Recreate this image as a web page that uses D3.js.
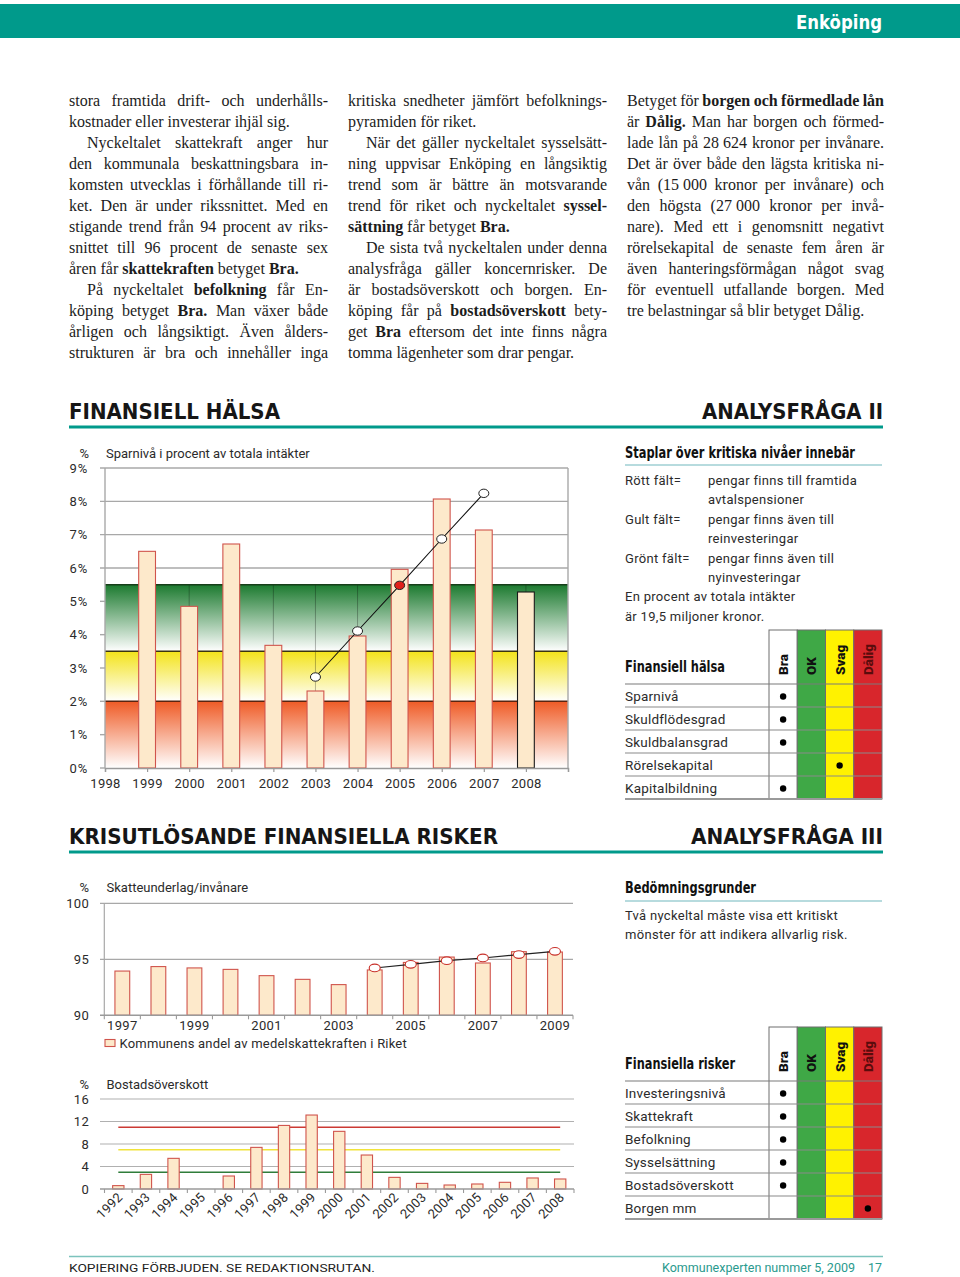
<!DOCTYPE html>
<html><head><meta charset="utf-8">
<script src="https://cdn.jsdelivr.net/npm/d3@7"></script>
<style>
html,body{margin:0;padding:0;background:#fff;}
svg{display:block;}
</style></head><body>
<svg id="page" width="960" height="1277"></svg>
<script>
// ---------------- DATA ----------------
const textCol1 = [
  "stora framtida drift- och underhålls-",
  "kostnader eller investerar ihjäl sig.|",
  ">Nyckeltalet skattekraft anger hur",
  "den kommunala beskattningsbara in-",
  "komsten utvecklas i förhållande till ri-",
  "ket. Den är under rikssnittet. Med en",
  "stigande trend från 94 procent av riks-",
  "snittet till 96 procent de senaste sex",
  "åren får **skattekraften** betyget **Bra.**|",
  ">På nyckeltalet **befolkning** får En-",
  "köping betyget **Bra.** Man växer både",
  "årligen och långsiktigt. Även ålders-",
  "strukturen är bra och innehåller inga"
];
const textCol2 = [
  "kritiska snedheter jämfört befolknings-",
  "pyramiden för riket.|",
  ">När det gäller nyckeltalet sysselsätt-",
  "ning uppvisar Enköping en långsiktig",
  "trend som är bättre än motsvarande",
  "trend för riket och nyckeltalet **syssel-**",
  "**sättning** får betyget **Bra.**|",
  ">De sista två nyckeltalen under denna",
  "analysfråga gäller koncernrisker. De",
  "är bostadsöverskott och borgen. En-",
  "köping får på **bostadsöverskott** bety-",
  "get **Bra** eftersom det inte finns några",
  "tomma lägenheter som drar pengar.|"
];
const textCol3 = [
  "Betyget för **borgen och förmedlade lån**",
  "är **Dålig.** Man har borgen och förmed-",
  "lade lån på 28\u00a0624 kronor per invånare.",
  "Det är över både den lägsta kritiska ni-",
  "vån (15\u00a0000 kronor per invånare) och",
  "den högsta (27\u00a0000 kronor per invå-",
  "nare). Med ett i genomsnitt negativt",
  "rörelsekapital de senaste fem åren är",
  "även hanteringsförmågan något svag",
  "för eventuell utfallande borgen. Med",
  "tre belastningar så blir betyget Dålig.|"
];

// Chart 1: Sparnivå
const sparAxisYears = [1998,1999,2000,2001,2002,2003,2004,2005,2006,2007,2008,2009];
const sparYears = [1999,2000,2001,2002,2003,2004,2005,2006,2007,2008];
const sparValues = [6.5,4.85,6.72,3.68,2.31,3.96,5.96,8.07,7.14,5.28];
const sparTrendYears = [2003,2004,2005,2006,2007];
const sparTrendValues = [2.73,4.11,5.48,6.87,8.24];
const sparHighlightYear = 2005;
const sparOutlinedYear = 2008;
const sparYTicks = [0,1,2,3,4,5,6,7,8,9];
const sparBandLimits = [0,2,3.5,5.5];

// Chart 2: Skatteunderlag
const skattYears = [1997,1998,1999,2000,2001,2002,2003,2004,2005,2006,2007,2008,2009];
const skattValues = [93.95,94.35,94.23,94.1,93.54,93.21,92.74,94.05,94.72,95.2,94.67,95.68,95.65];
const skattTrendYears = [2004,2005,2006,2007,2008,2009];
const skattTrendValues = [94.23,94.55,94.88,95.12,95.42,95.71];
const skattTickLabels = [1997,1999,2001,2003,2005,2007,2009];
const skattYTicks = [90,95,100];

// Chart 3: Bostadsöverskott
const bostadYears = [1992,1993,1994,1995,1996,1997,1998,1999,2000,2001,2002,2003,2004,2005,2006,2007,2008];
const bostadValues = [0.6,2.6,5.45,0,2.31,7.4,11.3,13.15,10.25,6.04,2.07,1.0,0.71,0.89,1.19,1.96,1.78];
const bostadLevels = [11,7,3];
const bostadYTicks = [0,4,8,12,16];

// Tables
const gradeNames = ["Bra","OK","Svag","Dålig"];
const legendLabels = ["Rött fält=","Gult fält=","Grönt fält="];
const legendTexts = [["pengar finns till framtida","avtalspensioner"],["pengar finns även till","reinvesteringar"],["pengar finns även till","nyinvesteringar"]];
const legendNote = ["En procent av totala intäkter","är 19,5 miljoner kronor."];
const healthRows = ["Sparnivå","Skuldflödesgrad","Skuldbalansgrad","Rörelsekapital","Kapitalbildning"];
const healthGrades = ["Bra","Bra","Bra","Svag","Bra"];
const riskRows = ["Investeringsnivå","Skattekraft","Befolkning","Sysselsättning","Bostadsöverskott","Borgen mm"];
const riskGrades = ["Bra","Bra","Bra","Bra","Bra","Dålig"];
const riskNote = ["Två nyckeltal måste visa ett kritiskt","mönster för att indikera allvarlig risk."];

// ---------------- STYLE ----------------
const TEAL = "#009a8b";
const SANS = "Roboto, 'Open Sans', sans-serif";
const COND = "'DejaVu Sans Condensed','Roboto Condensed',Roboto,sans-serif";
const SERIF = "'Liberation Serif','Times New Roman',serif";
const BAR_FILL = "#fde9cb";
const BAR_STROKE = "#d0544c";
const TXT = "#2b2b2b";

const svg = d3.select("#page");
const defs = svg.append("defs");

function fitText(g, text, x, y, w, fs, fam, wt, fill) {
  return g.append("text").attr("x",x).attr("y",y).attr("font-family",fam).attr("font-weight",wt)
    .attr("font-size",fs).attr("fill",fill).attr("textLength",w).attr("lengthAdjust","spacingAndGlyphs").text(text);
}

// ---------------- HEADER ----------------
svg.append("rect").attr("x",0).attr("y",4).attr("width",960).attr("height",34).attr("fill",TEAL);
fitText(svg, "Enköping", 796, 29, 86, 20, COND, 700, "#fff");

// ---------------- BODY TEXT (justified) ----------------
function parseLine(raw) {
  let s = raw, indent = 0, just = true;
  if (s.startsWith(">")) { indent = 18; s = s.slice(1); }
  if (s.endsWith("|")) { just = false; s = s.slice(0,-1); }
  let bold = false;
  const words = s.split(" ").map(w => {
    let t = w;
    if (t.startsWith("**")) { bold = true; t = t.slice(2); }
    const b = bold;
    if (t.endsWith("**")) { t = t.slice(0,-2); bold = false; }
    return {t, b};
  });
  return {words, indent, just};
}
function drawColumn(lines, x0, width, yFirst, lineH, fs) {
  const g = svg.append("g").attr("font-family",SERIF).attr("font-size",fs).attr("fill","#1c1c1c");
  const sp = g.append("text").text("a a");
  const spw = sp.node().getComputedTextLength() - 2*g.append("text").text("a").node().getComputedTextLength();
  g.selectAll("text").remove();
  lines.forEach((raw,i) => {
    const L = parseLine(raw);
    const y = yFirst + i*lineH;
    const nodes = L.words.map(w => g.append("text").attr("y",y).attr("font-weight", w.b ? 700 : 400).text(w.t));
    const ws = nodes.map(n => n.node().getComputedTextLength());
    const total = d3.sum(ws);
    const avail = width - L.indent;
    let gap = spw;
    if (L.just && nodes.length > 1) gap = (avail - total) / (nodes.length - 1);
    let x = x0 + L.indent;
    nodes.forEach((n,k) => { n.attr("x", x); x += ws[k] + gap; });
  });
}
function maxNatural(lines, fs) {
  const g = svg.append("g").attr("font-family",SERIF).attr("font-size",fs);
  let m = 0;
  lines.forEach(raw => {
    const L = parseLine(raw);
    const t = g.append("text").text(L.words.map(w=>w.t).join(" "));
    m = Math.max(m, t.node().getComputedTextLength() + L.indent);
  });
  g.remove();
  return m;
}
let bodyFs = 16;
const colW = 259;
const nat = Math.max(maxNatural(textCol1,16), maxNatural(textCol2,16), maxNatural(textCol3,16));
if (nat > colW - 4) bodyFs = 16 * (colW - 4) / nat;
drawColumn(textCol1, 69, colW, 106, 21, bodyFs);
drawColumn(textCol2, 348, colW, 106, 21, bodyFs);
drawColumn(textCol3, 627, 257, 106, 21, bodyFs);

// ---------------- SECTION HEADINGS ----------------
fitText(svg, "FINANSIELL HÄLSA", 69, 418.5, 211, 21, COND, 700, "#161616");
fitText(svg, "ANALYSFRÅGA II", 883-181, 418.5, 181, 21, COND, 700, "#161616");
svg.append("rect").attr("x",69).attr("y",425.5).attr("width",814).attr("height",3).attr("fill",TEAL);
fitText(svg, "KRISUTLÖSANDE FINANSIELLA RISKER", 69, 844, 429, 21, COND, 700, "#161616");
fitText(svg, "ANALYSFRÅGA III", 883-192, 844, 192, 21, COND, 700, "#161616");
svg.append("rect").attr("x",69).attr("y",850.5).attr("width",814).attr("height",3).attr("fill",TEAL);

// ---------------- CHART 1 ----------------
(function(){
  const g = svg.append("g");
  const x = d3.scaleLinear().domain([1998,2009]).range([105,568]);
  const y = d3.scaleLinear().domain([0,9]).range([768,468]);
  const bandColors = [["#ef5b26","#ffffff"],["#f3e31a","#ffffff"],["#1c7a2f","#ffffff"]];
  const edgeColors = ["#5a2410","#3a3410","#173f1a"];
  bandColors.forEach((c,i) => {
    const lg = defs.append("linearGradient").attr("id","band"+i).attr("x1",0).attr("y1",0).attr("x2",0).attr("y2",1);
    lg.append("stop").attr("offset",0).attr("stop-color",c[0]);
    lg.append("stop").attr("offset",1).attr("stop-color",c[1]);
    g.append("rect").attr("x",x(1998)).attr("width",x(2009)-x(1998))
      .attr("y",y(sparBandLimits[i+1])).attr("height",y(sparBandLimits[i])-y(sparBandLimits[i+1]))
      .attr("fill","url(#band"+i+")");
  });
  g.selectAll(".vg").data(sparAxisYears.slice(1,-1)).enter().append("line")
    .attr("x1",d=>x(d)).attr("x2",d=>x(d)).attr("y1",y(0)).attr("y2",y(5.5))
    .attr("stroke","#000").attr("stroke-opacity",0.28).attr("stroke-width",1);
  g.selectAll(".hg").data(sparYTicks.filter(v=>v>5.5)).enter().append("line")
    .attr("x1",x(1998)-5).attr("x2",x(2009)).attr("y1",d=>y(d)).attr("y2",d=>y(d))
    .attr("stroke","#a8a8a8").attr("stroke-width",1.4);
  g.selectAll(".ht").data(sparYTicks.filter(v=>v<=5.5)).enter().append("line")
    .attr("x1",x(1998)-5).attr("x2",x(1998)).attr("y1",d=>y(d)).attr("y2",d=>y(d))
    .attr("stroke","#a8a8a8").attr("stroke-width",1.4);
  sparBandLimits.slice(1).forEach((v,i) => {
    g.append("line").attr("x1",x(1998)).attr("x2",x(2009)).attr("y1",y(v)).attr("y2",y(v))
      .attr("stroke",edgeColors[i]).attr("stroke-width",1.5);
  });
  g.append("line").attr("x1",x(1998)).attr("x2",x(1998)).attr("y1",y(0)).attr("y2",y(9)).attr("stroke","#a8a8a8").attr("stroke-width",1.4);
  g.append("line").attr("x1",x(2009)).attr("x2",x(2009)).attr("y1",y(0)).attr("y2",y(9)).attr("stroke","#a8a8a8").attr("stroke-width",1.4);
  const bw = 16.8;
  g.selectAll(".bar").data(sparYears).enter().append("rect")
    .attr("x",d=>x(d)-bw/2).attr("width",bw)
    .attr("y",(d,i)=>y(sparValues[i])).attr("height",(d,i)=>y(0)-y(sparValues[i]))
    .attr("fill",BAR_FILL).attr("stroke",d=>d===sparOutlinedYear?"#1a1a1a":BAR_STROKE).attr("stroke-width",1.1);
  const ax = g.append("g").attr("transform",`translate(0,${y(0)})`)
    .call(d3.axisBottom(x).tickValues(sparAxisYears).tickFormat(d=>d<=2008?d:"").tickSize(4).tickPadding(7));
  ax.select(".domain").attr("stroke","#9a9a9a").attr("stroke-width",1.4);
  ax.selectAll(".tick line").attr("stroke","#9a9a9a").attr("stroke-width",1.2);
  ax.selectAll(".tick text").attr("font-family",SANS).attr("font-size",13).attr("fill",TXT).attr("letter-spacing",0.3);
  g.selectAll(".yl").data(sparYTicks).enter().append("text")
    .attr("x",88).attr("y",d=>y(d)+4.6).attr("text-anchor","end")
    .attr("font-family",SANS).attr("font-size",13).attr("letter-spacing",0.8).attr("fill",TXT).text(d=>d+"%");
  g.append("text").attr("x",89).attr("y",457.5).attr("text-anchor","end").attr("font-family",SANS).attr("font-size",13).attr("fill",TXT).text("%");
  g.append("text").attr("x",106).attr("y",457.5).attr("font-family",SANS).attr("font-size",13).attr("fill",TXT).text("Sparnivå i procent av totala intäkter");
  const line = d3.line().x((d,i)=>x(sparTrendYears[i])).y(d=>y(d));
  g.append("path").attr("d",line(sparTrendValues)).attr("fill","none").attr("stroke","#111").attr("stroke-width",1.1);
  g.selectAll(".mk").data(sparTrendValues).enter().append("ellipse")
    .attr("cx",(d,i)=>x(sparTrendYears[i])).attr("cy",d=>y(d)).attr("rx",5).attr("ry",4.2)
    .attr("fill",(d,i)=>sparTrendYears[i]===sparHighlightYear?"#e0201c":"#fff").attr("stroke","#222").attr("stroke-width",1);
})();

// ---------------- GRADE TABLES ----------------
function drawGradeTable(title, rows, grades, top, headBottom, rowH) {
  const g = svg.append("g");
  const cx = d3.scaleBand().domain(gradeNames).range([769,882]);
  const ry = d3.scaleBand().domain(rows).range([headBottom, headBottom + rows.length*rowH]);
  const bottom = headBottom + rows.length*rowH;
  const fills = {"Bra":"#ffffff","OK":"#3fa846","Svag":"#fff200","Dålig":"#d8262c"};
  const tcol = {"Bra":"#111","OK":"#111","Svag":"#111","Dålig":"#5a0c0c"};
  g.selectAll(".col").data(gradeNames).enter().append("rect")
    .attr("x",d=>cx(d)).attr("width",cx.bandwidth()).attr("y",top).attr("height",bottom-top)
    .attr("fill",d=>fills[d]).attr("stroke","#6e6e6e").attr("stroke-width",1);
  g.selectAll(".ch").data(gradeNames).enter().append("text")
    .attr("transform",d=>`translate(${cx(d)+cx.bandwidth()/2+5},${headBottom-9}) rotate(-90)`)
    .attr("font-family",SANS).attr("font-weight",900).attr("font-size",13.5).attr("fill",d=>tcol[d]).text(d=>d);
  fitText(g, title[0], 625, headBottom-12, title[1], 15, COND, 700, "#111");
  g.append("line").attr("x1",625).attr("x2",882).attr("y1",headBottom).attr("y2",headBottom).attr("stroke","#7a7a7a").attr("stroke-width",1.2);
  g.selectAll(".rl").data(rows.slice(0,-1)).enter().append("line")
    .attr("x1",625).attr("x2",882).attr("y1",d=>ry(d)+rowH).attr("y2",d=>ry(d)+rowH)
    .attr("stroke","#8a8a8a").attr("stroke-width",1.1);
  g.append("line").attr("x1",625).attr("x2",882).attr("y1",bottom).attr("y2",bottom).attr("stroke","#9a9a9a").attr("stroke-width",2);
  g.selectAll(".rt").data(rows).enter().append("text")
    .attr("x",625).attr("y",d=>ry(d)+rowH/2+5).attr("font-family",SANS).attr("font-size",13.5).attr("letter-spacing",0.2).attr("fill",TXT).text(d=>d);
  g.selectAll(".dot").data(rows).enter().append("circle")
    .attr("cx",(d,i)=>cx(grades[i])+cx.bandwidth()/2).attr("cy",d=>ry(d)+rowH/2+1).attr("r",3.2).attr("fill","#000");
}
(function(){
  const g = svg.append("g");
  fitText(g, "Staplar över kritiska nivåer innebär", 625, 457.5, 230, 15, COND, 700, "#111");
  g.append("line").attr("x1",625).attr("x2",882).attr("y1",465).attr("y2",465).attr("stroke","#9fcfd3").attr("stroke-width",1.3);
  legendLabels.forEach((l,i) => {
    const y0 = 484.5 + i*39;
    g.append("text").attr("x",625).attr("y",y0).attr("font-family",SANS).attr("font-size",13).attr("letter-spacing",0.3).attr("fill",TXT).text(l);
    legendTexts[i].forEach((t,k) => g.append("text").attr("x",708).attr("y",y0+k*19.5).attr("font-family",SANS).attr("font-size",13).attr("letter-spacing",0.3).attr("fill",TXT).text(t));
  });
  legendNote.forEach((t,k) => g.append("text").attr("x",625).attr("y",601+k*19.5).attr("font-family",SANS).attr("font-size",13).attr("letter-spacing",0.3).attr("fill",TXT).text(t));
})();
drawGradeTable(["Finansiell hälsa",100], healthRows, healthGrades, 630, 684, 23);

// ---------------- CHART 2 ----------------
(function(){
  const g = svg.append("g");
  const x = d3.scaleBand().domain(skattYears).range([104.3,573]).paddingInner(0.59).paddingOuter(0.295);
  const y = d3.scaleLinear().domain([90,100]).range([1015.3,903.3]);
  g.selectAll(".hg").data(skattYTicks.slice(1)).enter().append("line")
    .attr("x1",100).attr("x2",573).attr("y1",d=>y(d)).attr("y2",d=>y(d)).attr("stroke","#a8a8a8").attr("stroke-width",1.3);
  g.append("line").attr("x1",104.3).attr("x2",104.3).attr("y1",y(90)).attr("y2",y(100)).attr("stroke","#a8a8a8").attr("stroke-width",1.2);
  g.selectAll(".bar").data(skattYears).enter().append("rect")
    .attr("x",d=>x(d)).attr("width",x.bandwidth())
    .attr("y",(d,i)=>y(skattValues[i])).attr("height",(d,i)=>y(90)-y(skattValues[i]))
    .attr("fill",BAR_FILL).attr("stroke",BAR_STROKE).attr("stroke-width",1.1);
  g.append("line").attr("x1",100).attr("x2",573).attr("y1",y(90)).attr("y2",y(90)).attr("stroke","#9a9a9a").attr("stroke-width",1.4);
  const step = x.step();
  g.selectAll(".tk").data(skattYears.concat([null])).enter().append("line")
    .attr("x1",(d,i)=>104.3+i*step).attr("x2",(d,i)=>104.3+i*step).attr("y1",y(90)).attr("y2",y(90)+4)
    .attr("stroke","#9a9a9a").attr("stroke-width",1.1);
  g.selectAll(".xl").data(skattTickLabels).enter().append("text")
    .attr("x",d=>x(d)+x.bandwidth()/2).attr("y",1030).attr("text-anchor","middle")
    .attr("font-family",SANS).attr("font-size",13).attr("letter-spacing",0.3).attr("fill",TXT).text(d=>d);
  g.selectAll(".yl").data(skattYTicks).enter().append("text")
    .attr("x",89).attr("y",d=>y(d)+4.6).attr("text-anchor","end")
    .attr("font-family",SANS).attr("font-size",13).attr("letter-spacing",0.3).attr("fill",TXT).text(d=>d);
  g.append("text").attr("x",89).attr("y",892).attr("text-anchor","end").attr("font-family",SANS).attr("font-size",13).attr("fill",TXT).text("%");
  g.append("text").attr("x",106.5).attr("y",892).attr("font-family",SANS).attr("font-size",13).attr("fill",TXT).text("Skatteunderlag/invånare");
  const line = d3.line().x((d,i)=>x(skattTrendYears[i])+x.bandwidth()/2).y(d=>y(d));
  g.append("path").attr("d",line(skattTrendValues)).attr("fill","none").attr("stroke","#222").attr("stroke-width",1.1);
  g.selectAll(".mk").data(skattTrendValues).enter().append("ellipse")
    .attr("cx",(d,i)=>x(skattTrendYears[i])+x.bandwidth()/2).attr("cy",d=>y(d)).attr("rx",5.5).attr("ry",3.8)
    .attr("fill","#fff").attr("stroke","#c8302a").attr("stroke-width",1.1);
  g.append("rect").attr("x",105).attr("y",1039.5).attr("width",10).attr("height",7).attr("fill",BAR_FILL).attr("stroke",BAR_STROKE).attr("stroke-width",1.1);
  g.append("text").attr("x",119.5).attr("y",1047.5).attr("font-family",SANS).attr("font-size",13).attr("letter-spacing",0.2).attr("fill",TXT).text("Kommunens andel av medelskattekraften i Riket");
})();

// ---------------- CHART 3 ----------------
(function(){
  const g = svg.append("g");
  const x = d3.scaleBand().domain(bostadYears).range([104.5,574]).paddingInner(0.59).paddingOuter(0.295);
  const y = d3.scaleLinear().domain([0,16]).range([1189,1099]);
  g.selectAll(".hg").data(bostadYTicks.slice(1)).enter().append("line")
    .attr("x1",100).attr("x2",574).attr("y1",d=>y(d)).attr("y2",d=>y(d)).attr("stroke","#b0b0b0").attr("stroke-width",1.2);
  const lvlColors = ["#cc3a34","#f1e33a","#2f7d3a"];
  bostadLevels.forEach((v,i) => {
    g.append("line").attr("x1",x(bostadYears[0])+x.bandwidth()/2).attr("x2",x(bostadYears[bostadYears.length-1])+x.bandwidth()/2)
      .attr("y1",y(v)).attr("y2",y(v)).attr("stroke",lvlColors[i]).attr("stroke-width",1.5);
  });
  g.selectAll(".bar").data(bostadYears).enter().append("rect")
    .attr("x",d=>x(d)).attr("width",x.bandwidth())
    .attr("y",(d,i)=>y(bostadValues[i])).attr("height",(d,i)=>y(0)-y(bostadValues[i]))
    .attr("fill",BAR_FILL).attr("stroke",BAR_STROKE).attr("stroke-width",1.1)
    .attr("display",(d,i)=>bostadValues[i]>0?null:"none");
  g.append("line").attr("x1",100).attr("x2",574).attr("y1",y(0)).attr("y2",y(0)).attr("stroke","#9a9a9a").attr("stroke-width",1.4);
  const step = x.step();
  g.selectAll(".tk").data(bostadYears.concat([null])).enter().append("line")
    .attr("x1",(d,i)=>104.5+i*step).attr("x2",(d,i)=>104.5+i*step).attr("y1",y(0)).attr("y2",y(0)+4)
    .attr("stroke","#9a9a9a").attr("stroke-width",1.1);
  g.selectAll(".xl").data(bostadYears).enter().append("text")
    .attr("transform",d=>`translate(${x(d)+x.bandwidth()/2+5},${1198}) rotate(-45)`).attr("text-anchor","end")
    .attr("font-family",SANS).attr("font-size",13).attr("letter-spacing",0.3).attr("fill",TXT).text(d=>d);
  g.selectAll(".yl").data(bostadYTicks).enter().append("text")
    .attr("x",89).attr("y",d=>y(d)+4.6).attr("text-anchor","end")
    .attr("font-family",SANS).attr("font-size",13).attr("letter-spacing",0.3).attr("fill",TXT).text(d=>d);
  g.append("text").attr("x",89).attr("y",1089).attr("text-anchor","end").attr("font-family",SANS).attr("font-size",13).attr("fill",TXT).text("%");
  g.append("text").attr("x",106.5).attr("y",1089).attr("font-family",SANS).attr("font-size",13).attr("fill",TXT).text("Bostadsöverskott");
})();

// ---------------- RIGHT PANEL 2 ----------------
(function(){
  const g = svg.append("g");
  fitText(g, "Bedömningsgrunder", 625, 893, 131, 15, COND, 700, "#111");
  g.append("line").attr("x1",625).attr("x2",882).attr("y1",901).attr("y2",901).attr("stroke","#9fcfd3").attr("stroke-width",1.3);
  riskNote.forEach((t,k) => g.append("text").attr("x",625).attr("y",919.5+k*19.5).attr("font-family",SANS).attr("font-size",13).attr("letter-spacing",0.3).attr("fill",TXT).text(t));
})();
drawGradeTable(["Finansiella risker",110], riskRows, riskGrades, 1027, 1081, 23);

// ---------------- FOOTER ----------------
svg.append("line").attr("x1",69).attr("x2",883).attr("y1",1256.5).attr("y2",1256.5).attr("stroke","#7cc3bd").attr("stroke-width",1.5);
fitText(svg, "KOPIERING FÖRBJUDEN. SE REDAKTIONSRUTAN.", 69, 1271.5, 306, 11.5, SANS, 400, "#222");
fitText(svg, "Kommunexperten nummer 5, 2009", 662, 1271.5, 193, 12, SANS, 400, "#2a9a8e");
fitText(svg, "17", 868, 1271.5, 14, 12, SANS, 400, "#2a9a8e");
</script>
</body></html>
